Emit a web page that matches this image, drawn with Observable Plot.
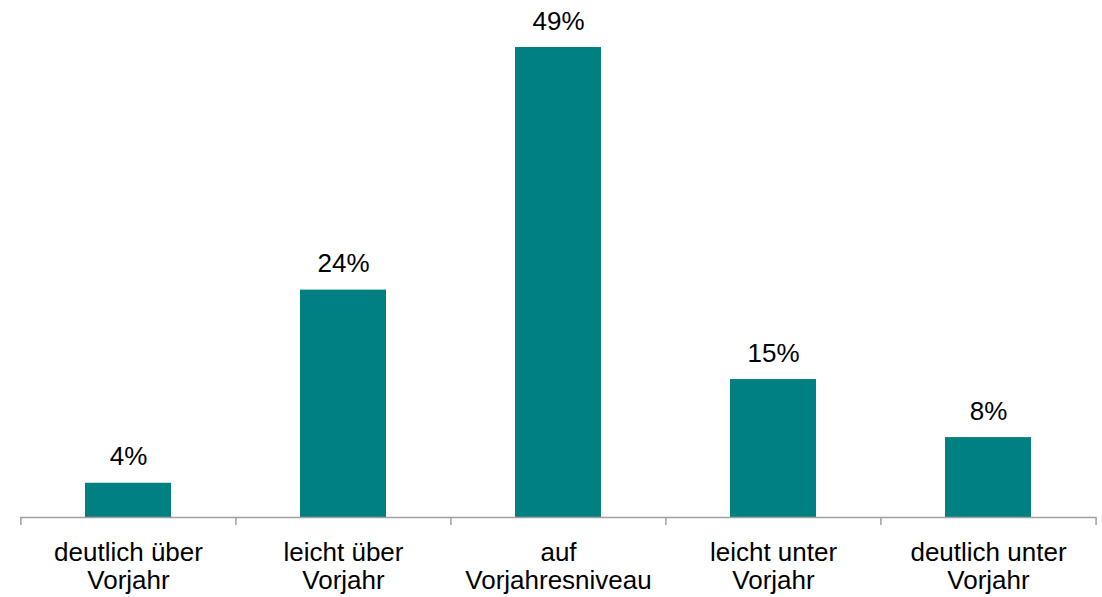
<!DOCTYPE html>
<html>
<head>
<meta charset="utf-8">
<script src="https://cdn.jsdelivr.net/npm/d3@7"></script>
<script src="https://cdn.jsdelivr.net/npm/@observablehq/plot@0.6"></script>
<style>
  html, body { margin: 0; padding: 0; background: #fff; }
  #chart svg { font-family: "Liberation Sans", Arial, sans-serif; }
</style>
</head>
<body>
<div id="chart"></div>
<script>
const categories = [
  "deutlich über\nVorjahr",
  "leicht über\nVorjahr",
  "auf\nVorjahresniveau",
  "leicht unter\nVorjahr",
  "deutlich unter\nVorjahr"
];
const values = [3.6, 23.9, 49.4, 14.5, 8.4];
const valueLabels = ["4%", "24%", "49%", "15%", "8%"];

const data = categories.map((c, i) => ({cat: c, value: values[i], label: valueLabels[i]}));

const W = 1102, H = 597;
const ml = 20, mr = 6, mt = 47, mb = 80;
const ymax = d3.max(values);
const step = (W - ml - mr) / categories.length;
const tickDepth = -8 * ymax / (H - mt - mb);

const chart = Plot.plot({
  width: W,
  height: H,
  marginLeft: ml,
  marginRight: mr,
  marginTop: mt,
  marginBottom: mb,
  style: {fontFamily: '"Liberation Sans", Arial, sans-serif', background: "#fff"},
  x: {domain: categories, paddingInner: 0.6, paddingOuter: 0.3, axis: null},
  y: {domain: [0, ymax], axis: null},
  marks: [
    Plot.barY(data, {x: "cat", y: "value", fill: "#008080"}),
    Plot.ruleY([0], {stroke: "#a0a0a0", strokeWidth: 1.5}),
    Plot.ruleX(categories, {x: d => d, y1: 0, y2: tickDepth, dx: -step / 2, stroke: "#a0a0a0", strokeWidth: 1.5}),
    Plot.ruleX(categories.slice(-1), {x: d => d, y1: 0, y2: tickDepth, dx: step / 2, stroke: "#a0a0a0", strokeWidth: 1.5}),
    Plot.text(data, {x: "cat", y: "value", text: "label", lineAnchor: "bottom", dy: -18, fontSize: 26, fill: "#000"}),
    Plot.text(data, {x: "cat", y: 0, text: "cat", lineAnchor: "top", dy: 24, fontSize: 26, lineHeight: 1.07, fill: "#000"})
  ]
});
document.getElementById("chart").appendChild(chart);
</script>
</body>
</html>
